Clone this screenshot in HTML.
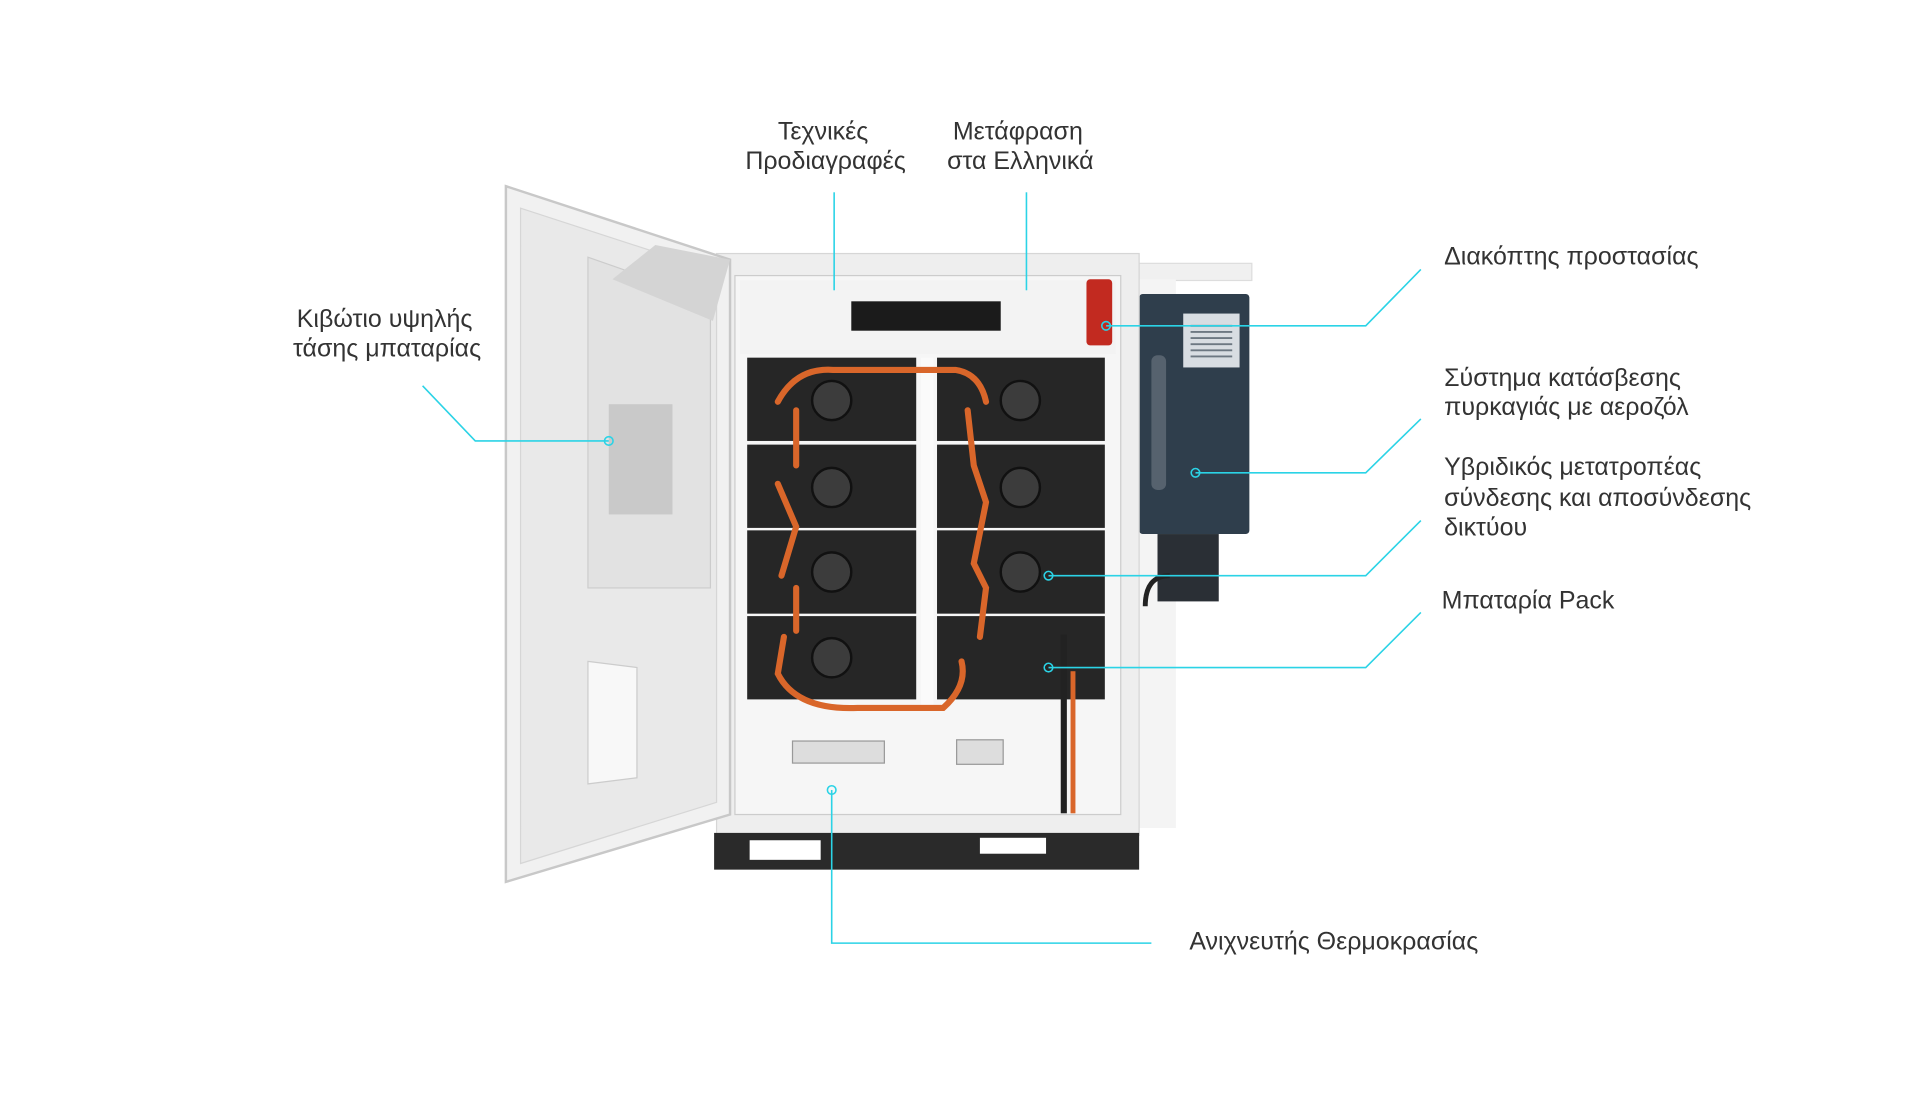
<!DOCTYPE html>
<html><head><meta charset="utf-8"><style>
html,body{margin:0;padding:0;background:#fff;}
svg{display:block}
text{font-family:"Liberation Sans","DejaVu Sans",sans-serif;font-size:20.4px;fill:#333;}
</style></head><body>
<svg width="1920" height="1120" viewBox="0 0 1567.5 914.4" xmlns="http://www.w3.org/2000/svg">
<rect width="1568" height="915" fill="#fff"/>
<rect x="915" y="215" width="107" height="14" fill="#f0f0f0" stroke="#ddd"/>
<rect x="925" y="228" width="35" height="448" fill="#f4f4f4"/>
<rect x="930" y="240" width="90" height="196" fill="#2f3e4c" rx="3"/>
<rect x="966" y="256" width="46" height="44" fill="#d8dde2"/>
<g stroke="#6d7882" stroke-width="1.5"><line x1="972" y1="266" x2="1006" y2="266"/><line x1="972" y1="271" x2="1006" y2="271"/><line x1="972" y1="276" x2="1006" y2="276"/><line x1="972" y1="281" x2="1006" y2="281"/><line x1="972" y1="286" x2="1006" y2="286"/><line x1="972" y1="291" x2="1006" y2="291"/></g>
<rect x="940" y="290" width="12" height="110" fill="#56626e" rx="5"/>
<rect x="945" y="436" width="50" height="55" fill="#2a2f35"/>
<path d="M935 495 Q935 470 955 470" stroke="#222" stroke-width="4" fill="none"/>
<rect x="585" y="207" width="345" height="475" fill="#eeeeee" stroke="#d6d6d6"/>
<rect x="600" y="225" width="315" height="440" fill="#f6f6f6" stroke="#ccc"/>
<rect x="604" y="229" width="307" height="60" fill="#f3f3f3"/>
<rect x="695" y="246" width="122" height="24" fill="#1b1b1b"/>
<rect x="887" y="228" width="21" height="54" fill="#c22a20" rx="3"/>
<g fill="#262626">
<rect x="610" y="292" width="138" height="68"/><rect x="765" y="292" width="137" height="68"/>
<rect x="610" y="363" width="138" height="68"/><rect x="765" y="363" width="137" height="68"/>
<rect x="610" y="433" width="138" height="68"/><rect x="765" y="433" width="137" height="68"/>
<rect x="610" y="503" width="138" height="68"/><rect x="765" y="503" width="137" height="68"/>
</g>
<g fill="#3c3c3c" stroke="#111" stroke-width="2">
<circle cx="679" cy="327" r="16"/><circle cx="833" cy="327" r="16"/>
<circle cx="679" cy="398" r="16"/><circle cx="833" cy="398" r="16"/>
<circle cx="679" cy="467" r="16"/><circle cx="833" cy="467" r="16"/>
<circle cx="679" cy="537" r="16"/>
</g>
<rect x="752" y="292" width="10" height="285" fill="#fafafa"/>
<g stroke="#d9662a" stroke-width="5" fill="none" stroke-linecap="round">
<path d="M635 328 Q650 300 680 302 L780 302 Q800 305 805 328"/>
<path d="M650 335 L650 380 M635 395 L650 430 L638 470 M650 480 L650 515 M640 520 L635 550 Q650 580 700 578 L770 578 Q790 560 785 540"/>
<path d="M790 335 L795 380 L805 410 L795 460 L805 480 L800 520"/>
</g>
<rect x="866" y="518" width="5" height="146" fill="#222"/>
<rect x="874" y="548" width="4" height="116" fill="#d9662a"/>
<rect x="647" y="605" width="75" height="18" fill="#ddd" stroke="#999"/>
<rect x="781" y="604" width="38" height="20" fill="#ddd" stroke="#999"/>
<rect x="583" y="680" width="347" height="30" fill="#2a2a2a"/>
<rect x="612" y="686" width="58" height="16" fill="#fff"/>
<rect x="800" y="684" width="54" height="13" fill="#fff"/>
<polygon points="413,152 596,212 596,665 413,720" fill="#f1f1f1" stroke="#c8c8c8" stroke-width="2"/>
<polygon points="425,170 585,222 585,655 425,705" fill="#e9e9e9" stroke="#d6d6d6"/>
<polygon points="480,210 580,245 580,480 480,480" fill="#e2e2e2" stroke="#ccc"/>
<polygon points="535,200 596,212 582,262 500,228" fill="#d4d4d4"/>
<rect x="497" y="330" width="52" height="90" fill="#c9c9c9"/>
<polygon points="480,540 520,545 520,635 480,640" fill="#f8f8f8" stroke="#ccc"/>
<g stroke="#2bd3e6" stroke-width="1.3" fill="none">
<path d="M681 157 L681 237"/><path d="M838 157 L838 237"/>
<path d="M1160 220 L1115 266 L903 266"/>
<path d="M1160 342 L1115 386 L976 386"/>
<path d="M1160 425 L1115 470 L856 470"/>
<path d="M1160 500 L1115 545 L856 545"/>
<path d="M345 315 L388 360 L497 360"/>
<path d="M679 645 L679 770 L940 770"/>
<circle cx="903" cy="266" r="3.5"/><circle cx="976" cy="386" r="3.5"/><circle cx="856" cy="470" r="3.5"/><circle cx="856" cy="545" r="3.5"/><circle cx="497" cy="360" r="3.5"/><circle cx="679" cy="645" r="3.5"/>
</g>
<text x="672" y="114" text-anchor="middle">Τεχνικές</text>
<text x="674" y="138" text-anchor="middle">Προδιαγραφές</text>
<text x="831" y="114" text-anchor="middle">Μετάφραση</text>
<text x="833" y="138" text-anchor="middle">στα Ελληνικά</text>
<text x="1179" y="216">Διακόπτης προστασίας</text>
<text x="1179" y="315">Σύστημα κατάσβεσης</text>
<text x="1179" y="339">πυρκαγιάς με αεροζόλ</text>
<text x="1179" y="388">Υβριδικός μετατροπέας</text>
<text x="1179" y="413">σύνδεσης και αποσύνδεσης</text>
<text x="1179" y="437">δικτύου</text>
<text x="1177" y="497">Μπαταρία Pack</text>
<text x="314" y="267" text-anchor="middle">Κιβώτιο υψηλής</text>
<text x="316" y="291" text-anchor="middle">τάσης μπαταρίας</text>
<text x="971" y="775">Ανιχνευτής Θερμοκρασίας</text>
</svg>
</body></html>
